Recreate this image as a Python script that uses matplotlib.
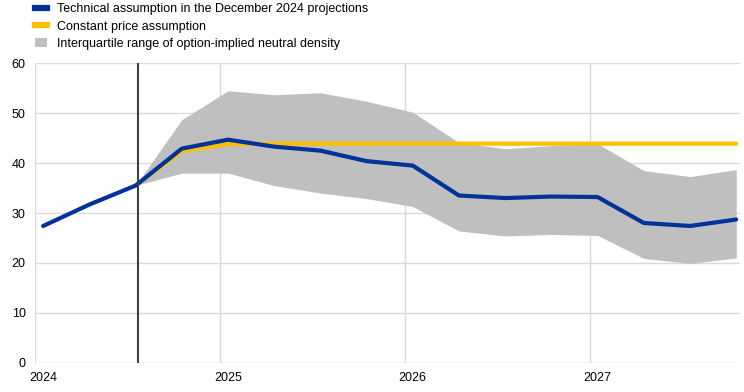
import matplotlib
matplotlib.use("Agg")
import matplotlib.pyplot as plt
from matplotlib.lines import Line2D
from matplotlib.patches import Patch

plt.rcParams['font.family'] = ['Liberation Sans', 'DejaVu Sans']

# Quarterly observation dates (mid-month of first month of each quarter)
years = [2024, 2025, 2026, 2027]
quarter_months = [0.5, 3.5, 6.5, 9.5]
dates = [y + m / 12 for y in years for m in quarter_months]

technical = [27.4, 31.7, 35.5, 42.9, 44.7, 43.3, 42.5, 40.4,
             39.5, 33.5, 33.0, 33.3, 33.2, 28.0, 27.4, 28.7]
constant = [None, None, 35.5, 42.4, 43.8, 43.9, 43.9, 43.9,
            43.9, 43.9, 43.9, 43.9, 43.9, 43.9, 43.9, 43.9]
iqr_upper = [None, None, 35.5, 48.7, 54.5, 53.7, 54.1, 52.4,
             50.2, 44.1, 42.9, 43.5, 43.9, 38.5, 37.3, 38.7]
iqr_lower = [None, None, 35.5, 38.0, 38.0, 35.5, 34.0, 32.9,
             31.3, 26.4, 25.4, 25.7, 25.5, 20.9, 19.9, 21.0]
cutoff = 2024.555

year_labels = ["2024", "2025", "2026", "2027"]
yticks = [0, 10, 20, 30, 40, 50, 60]

labels = ["Technical assumption in the December 2024 projections",
          "Constant price assumption",
          "Interquartile range of option-implied neutral density"]

BLUE = "#003299"
YELLOW = "#FFBF00"
GREY = "#BFBFBF"
GRID = "#D9D9D9"

fig = plt.figure(figsize=(7.44, 3.92), dpi=100)
ax = fig.add_axes([0.0477, 0.0747, 0.9469, 0.7638])

band_x = [d for d, u in zip(dates, iqr_upper) if u is not None]
band_u = [u for u in iqr_upper if u is not None]
band_l = [l for l in iqr_lower if l is not None]
ax.fill_between(band_x, band_l, band_u, color=GREY, linewidth=0, zorder=2)

cx = [d for d, c in zip(dates, constant) if c is not None]
cy = [c for c in constant if c is not None]
ax.plot(cx, cy, color=YELLOW, linewidth=3, solid_capstyle='round', zorder=3)
ax.plot(dates, technical, color=BLUE, linewidth=3, solid_capstyle='round',
        solid_joinstyle='round', zorder=4)

ax.axvline(cutoff, color="#404040", linewidth=1.5, zorder=5)

ax.set_xlim(2024.0, 2027.812)
ax.set_ylim(0, 60)
ax.set_yticks(yticks)
ax.set_xticks(years)
ax.set_xticklabels([])
ax.set_xticks([y + 0.5 / 12 for y in years], minor=True)
ax.set_xticklabels(year_labels, minor=True)
ax.tick_params(axis='x', which='both', length=0, pad=7, labelsize=9, colors='black')
ax.tick_params(axis='y', length=0, pad=7, labelsize=9)
ax.grid(True, which='major', color=GRID, linewidth=1, zorder=0)
ax.set_axisbelow(True)
for s in ax.spines.values():
    s.set_visible(False)

handles = [Line2D([0], [0], color=BLUE, linewidth=4.5),
           Line2D([0], [0], color=YELLOW, linewidth=4.5),
           Patch(facecolor=GREY, edgecolor='none')]
fig.legend(handles, labels, loc='upper left', bbox_to_anchor=(0.047, 0.992),
           frameon=False, fontsize=9, handlelength=1.0, handleheight=0.8,
           handletextpad=0.8, labelspacing=0.42, borderaxespad=0,
           borderpad=0)

fig.savefig("out.png", dpi=100)
